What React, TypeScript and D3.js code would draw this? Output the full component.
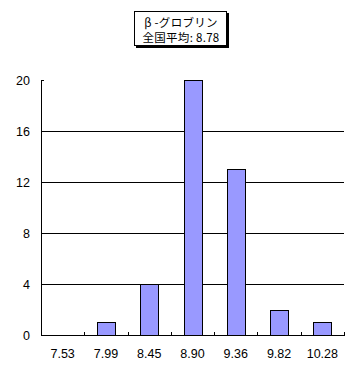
import React from "react";
import * as d3 from "d3";

const categories = ["7.53", "7.99", "8.45", "8.90", "9.36", "9.82", "10.28"];
const counts = [0, 1, 4, 20, 13, 2, 1];
const yTicks = [0, 4, 8, 12, 16, 20];
const titleLines = ["β -グロブリン", "全国平均: 8.78"];

const W = 359, H = 381;
const left = 41, right = 344, top = 80, bottom = 335;

export default function App() {
  const x = d3.scaleBand<string>().domain(categories).range([left, right]).padding(0);
  const y = d3.scaleLinear().domain([0, 20]).range([bottom, top]);
  const step = x.step();
  const bw = Math.round(step * 0.42);
  const font = "'Liberation Sans', Arial, sans-serif";
  return (
    <svg width={W} height={H} style={{ position: "absolute", left: 0, top: 0, background: "#fff" }}>
      {yTicks.filter((t) => t > 0 && t < 20).map((t) => (
        <line key={"g" + t} x1={left} x2={right} y1={Math.round(y(t)) + 0.5} y2={Math.round(y(t)) + 0.5} stroke="#000" strokeWidth={1} />
      ))}
      {counts.map((v, i) => {
        if (v <= 0) return null;
        const cx = (x(categories[i]) as number) + step / 2;
        const x0 = Math.round(cx - bw / 2) + 0.5;
        const y0 = Math.round(y(v)) + 0.5;
        return <rect key={i} x={x0} y={y0} width={bw} height={Math.round(y(0)) - Math.round(y(v))} fill="#9999FF" stroke="#000" strokeWidth={1} />;
      })}
      <line x1={left + 0.5} x2={left + 0.5} y1={top} y2={bottom + 1} stroke="#000" />
      {yTicks.map((t) => (
        <g key={"y" + t}>
          <line x1={left} x2={left + 3} y1={Math.round(y(t)) + 0.5} y2={Math.round(y(t)) + 0.5} stroke="#000" />
          <text x={30} y={y(t) + 4.5} textAnchor="end" fontFamily={font} fontSize={12.5}>{t}</text>
        </g>
      ))}
      <line x1={left} x2={right + 1} y1={bottom + 0.5} y2={bottom + 0.5} stroke="#000" />
      {categories.map((c, i) => {
        const bx = Math.round((x(c) as number) + step) + 0.5;
        return <line key={"xt" + i} x1={bx} x2={bx} y1={bottom - 3} y2={bottom} stroke="#000" />;
      })}
      {categories.map((c) => (
        <text key={"xl" + c} x={(x(c) as number) + step / 2} y={358} textAnchor="middle" fontFamily={font} fontSize={12.5}>{c}</text>
      ))}
      <rect x={136} y={13} width={93} height={35} fill="#000" />
      <rect x={134.5} y={11.5} width={92} height={34} fill="#fff" stroke="#000" />
      {titleLines.map((l, i) => (
        <text key={"t" + i} x={181} y={27 + i * 14.5} textAnchor="middle" fontFamily="'Noto Sans CJK JP', sans-serif" fontSize={11.5} letterSpacing={0.3}>{l}</text>
      ))}
    </svg>
  );
}
